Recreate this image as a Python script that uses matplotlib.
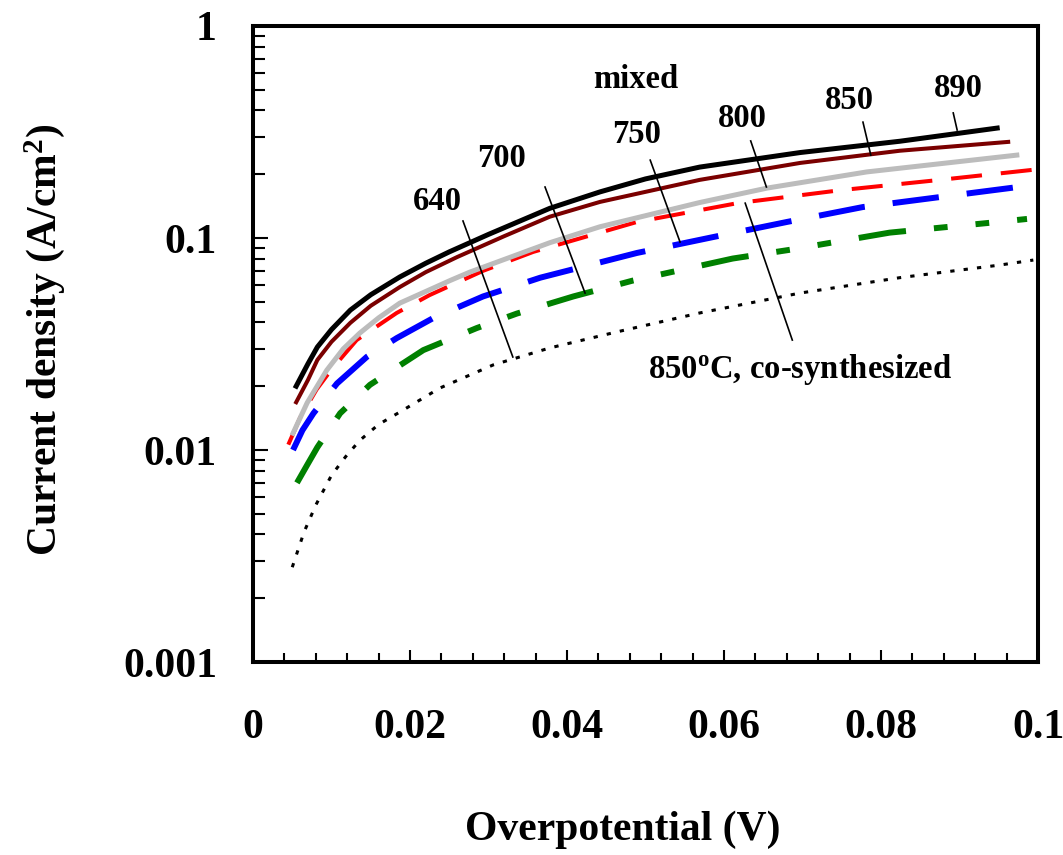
import matplotlib
matplotlib.use('Agg')
import matplotlib.pyplot as plt
from matplotlib.ticker import MultipleLocator, LogLocator, FixedLocator, FixedFormatter, NullFormatter

plt.rcParams['font.family'] = ['Liberation Serif', 'DejaVu Serif']
plt.rcParams['font.weight'] = 'bold'
plt.rcParams['mathtext.fontset'] = 'custom'
plt.rcParams['mathtext.rm'] = 'Liberation Serif:bold'
plt.rcParams['mathtext.it'] = 'Liberation Serif:bold'
plt.rcParams['mathtext.bf'] = 'Liberation Serif:bold'

# mixed, 890 C (black solid)
x_890 = [0.0055, 0.007, 0.0082, 0.010, 0.0124, 0.015, 0.0187, 0.022, 0.025, 0.03, 0.0378, 0.0442, 0.05,
         0.0569, 0.0697, 0.0824, 0.0948]
y_890 = [0.020, 0.0255, 0.0306, 0.037, 0.0457, 0.054, 0.0655, 0.076, 0.086, 0.104, 0.138, 0.165, 0.19,
         0.216, 0.253, 0.286, 0.330]
# mixed, 850 C (maroon solid)
x_850 = [0.0055, 0.007, 0.0082, 0.010, 0.0124, 0.015, 0.0187, 0.022, 0.026, 0.032, 0.0378, 0.0442, 0.0569,
         0.0697, 0.0824, 0.0962]
y_850 = [0.0168, 0.0214, 0.0266, 0.0324, 0.0398, 0.0479, 0.0587, 0.069, 0.0813, 0.102, 0.126, 0.148, 0.188,
         0.226, 0.258, 0.284]
# mixed, 800 C (grey)
x_800 = [0.0051, 0.0069, 0.0094, 0.0115, 0.0136, 0.016, 0.0187, 0.0251, 0.0276, 0.0378, 0.0442, 0.0569,
         0.0655, 0.0782, 0.0973]
y_800 = [0.012, 0.0167, 0.0238, 0.030, 0.0356, 0.042, 0.0493, 0.063, 0.069, 0.095, 0.113, 0.147,
         0.172, 0.205, 0.246]
# co-synthesized 850 C (red dashed)
x_co = [0.0045, 0.006, 0.0081, 0.010, 0.0132, 0.0183, 0.0225, 0.0293, 0.0357, 0.0489, 0.0617, 0.0748, 0.0875, 0.1]
y_co = [0.0106, 0.0142, 0.0193, 0.024, 0.033, 0.0443, 0.0538, 0.070, 0.086, 0.119, 0.146, 0.168, 0.188, 0.211]
# mixed, 750 C (blue dashed)
x_750 = [0.0051, 0.0063, 0.0077, 0.0107, 0.0145, 0.0183, 0.023, 0.0293, 0.0366, 0.0489, 0.0586, 0.068,
         0.0777, 0.0875, 0.0985]
y_750 = [0.010, 0.0124, 0.0149, 0.0206, 0.0275, 0.0337, 0.042, 0.053, 0.065, 0.085, 0.101, 0.119,
         0.140, 0.156, 0.176]
# mixed, 700 C (green dash-dot-dot)
x_700 = [0.0056, 0.0069, 0.0082, 0.0111, 0.0149, 0.0217, 0.0285, 0.0336, 0.0408, 0.0484, 0.0611, 0.0684,
         0.0811, 0.0939, 0.0986]
y_700 = [0.007, 0.0085, 0.0103, 0.0149, 0.0203, 0.0296, 0.0376, 0.044, 0.053, 0.063, 0.080, 0.088,
         0.106, 0.118, 0.123]
# mixed, 640 C (black dotted)
x_640 = [0.005, 0.0065, 0.008, 0.010, 0.0118, 0.0136, 0.016, 0.0187, 0.0238, 0.0306, 0.0378, 0.0464,
         0.0569, 0.0697, 0.0824, 0.0952, 0.0994]
y_640 = [0.0028, 0.0041, 0.0055, 0.0076, 0.0093, 0.0111, 0.0132, 0.0151, 0.0196, 0.0252, 0.0303, 0.0361,
         0.0443, 0.055, 0.065, 0.0746, 0.0787]

# label text, text position, leader line start / end
labels = ['640', '700', '750', '800', '850', '890']
label_xy = [(0.0235, 0.1355), (0.0316, 0.216), (0.0488, 0.2806), (0.0623, 0.334), (0.0760, 0.406), (0.0898, 0.4624)]
leaders = [((0.02675, 0.1203), (0.0331, 0.02746)),
           ((0.0372, 0.174), (0.0423, 0.055)),
           ((0.0506, 0.233), (0.0544, 0.0957)),
           ((0.0634, 0.287), (0.0654, 0.174)),
           ((0.0777, 0.352), (0.0787, 0.246)),
           ((0.0892, 0.389), (0.0897, 0.323))]
co_leader = ((0.0627, 0.146), (0.0687, 0.033))

fig = plt.figure(figsize=(10.63, 8.55), dpi=100)
ax = fig.add_axes([0.238, 0.2257, 0.7385, 0.7439])

ax.plot(x_640, y_640, color='black', lw=2.2, dashes=(1.4, 3.0))
ax.plot(x_700, y_700, color='#008000', lw=4.3, dashes=(8, 4.7, 2.3, 4.7, 2.3, 4.7))
ax.plot(x_750, y_750, color='#0000ff', lw=4.3, dashes=(7.8, 4.7))
ax.plot(x_co, y_co, color='#ff0000', lw=2.9, dashes=(7.7, 4.7))
ax.plot(x_800, y_800, color='#bcbcbc', lw=3.6)
ax.plot(x_850, y_850, color='#7a0000', lw=2.9)
ax.plot(x_890, y_890, color='black', lw=3.6)

for (p1, p2) in leaders + [co_leader]:
    ax.plot([p1[0], p2[0]], [p1[1], p2[1]], color='black', lw=1.2)

for t, (tx, ty) in zip(labels, label_xy):
    ax.text(tx, ty, t, fontsize=23.5, fontweight='bold', ha='center', va='baseline')
ax.text(0.0487, 0.51, 'mixed', fontsize=23.5, fontweight='bold', ha='center', va='baseline')
ax.text(0.0697, 0.0219, r'850$^{\mathrm{o}}$C, co-synthesized', fontsize=23.5, fontweight='bold',
        ha='center', va='baseline')

ax.set_yscale('log')
ax.set_xlim(0, 0.1)
ax.set_ylim(0.001, 1)

ax.xaxis.set_major_locator(FixedLocator([0, 0.02, 0.04, 0.06, 0.08, 0.1]))
ax.xaxis.set_major_formatter(FixedFormatter(['0', '0.02', '0.04', '0.06', '0.08', '0.1']))
ax.xaxis.set_minor_locator(MultipleLocator(0.004))
ax.yaxis.set_major_locator(FixedLocator([0.001, 0.01, 0.1, 1]))
ax.yaxis.set_major_formatter(FixedFormatter(['0.001', '0.01', '0.1', '1']))
ax.yaxis.set_minor_locator(LogLocator(base=10, subs=range(2, 10)))
ax.yaxis.set_minor_formatter(NullFormatter())

ax.tick_params(axis='both', which='both', direction='in', top=False, right=False, labelsize=30)
ax.tick_params(axis='x', which='major', length=8.6, width=1.5, pad=34)
ax.tick_params(axis='x', which='minor', length=6.5, width=1.5)
ax.tick_params(axis='y', which='major', length=11, width=1.5, pad=26)
ax.tick_params(axis='y', which='minor', length=8.5, width=1.5)
for lab in ax.get_xticklabels() + ax.get_yticklabels():
    lab.set_fontweight('bold')

for s in ax.spines.values():
    s.set_linewidth(2.9)

fig.text(623 / 1063, 1 - 830 / 855, 'Overpotential (V)', fontsize=30, fontweight='bold',
         ha='center', va='center')
fig.text(45 / 1063, 1 - 340 / 855, r'Current density (A/cm$^{\mathrm{2}}$)', fontsize=30,
         fontweight='bold', ha='center', va='center', rotation=90)

fig.savefig('out.png', dpi=100)
